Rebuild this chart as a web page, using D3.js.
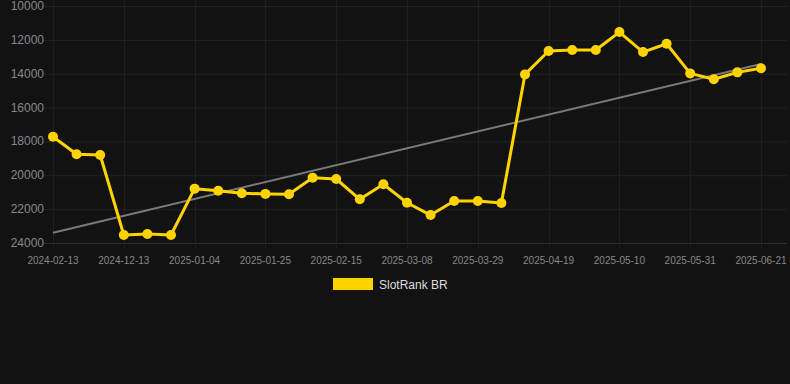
<!DOCTYPE html>
<html>
<head>
<meta charset="utf-8">
<script src="https://cdn.jsdelivr.net/npm/d3@7/dist/d3.min.js"></script>
<style>
  html, body { margin: 0; padding: 0; background: #121212; }
  svg { display: block; }
  text { font-family: "Liberation Sans", Arial, Helvetica, sans-serif; }
</style>
</head>
<body>
<svg id="chart" width="790" height="384"></svg>
<script>
// x categories (only every third one carries a label)
const labels = [
  '2024-02-13', '', '', '2024-12-13', '', '', '2025-01-04', '', '', '2025-01-25', '', '',
  '2025-02-15', '', '', '2025-03-08', '', '', '2025-03-29', '', '', '2025-04-19', '', '',
  '2025-05-10', '', '', '2025-05-31', '', '', '2025-06-21'
];

const rankValues = [
  17720, 18760, 18800, 23530, 23470, 23530, 20790, 20910, 21060, 21100, 21120, 20140,
  20220, 21420, 20530, 21620, 22350, 21520, 21520, 21640, 14040, 12660, 12600, 12600,
  11540, 12720, 12230, 13980, 14330, 13920, 13680
];

// trend line, first and last value
const trendValues = [23390, 13430];

const yTicks = [10000, 12000, 14000, 16000, 18000, 20000, 22000, 24000];
const seriesName = 'SlotRank BR';

const svg = d3.select('#chart');
const W = 790;

const x = d3.scaleLinear().domain([0, labels.length - 1]).range([53, 761]);
const y = d3.scaleLinear().domain([10000, 24000]).range([6, 243]);

// horizontal grid
svg.append('g')
  .selectAll('line')
  .data(yTicks)
  .join('line')
  .attr('x1', 43).attr('x2', 787)
  .attr('y1', d => y(d) + 0.5).attr('y2', d => y(d) + 0.5)
  .attr('stroke', d => d === 24000 ? '#2e2e2e' : '#222')
  .attr('stroke-width', 1);

// vertical grid at labelled ticks
const labelled = labels.map((l, i) => ({ l, i })).filter(d => d.l);
svg.append('g')
  .selectAll('line')
  .data(labelled)
  .join('line')
  .attr('x1', d => Math.round(x(d.i)) + 0.5).attr('x2', d => Math.round(x(d.i)) + 0.5)
  .attr('y1', 0).attr('y2', 249)
  .attr('stroke', '#1f1f1f')
  .attr('stroke-width', 1);

// y labels
svg.append('g')
  .selectAll('text')
  .data(yTicks)
  .join('text')
  .attr('x', 44)
  .attr('y', d => y(d) + 4)
  .attr('text-anchor', 'end')
  .attr('font-size', 12)
  .attr('fill', '#888')
  .text(d => d);

// x labels
svg.append('g')
  .selectAll('text')
  .data(labelled)
  .join('text')
  .attr('x', d => x(d.i))
  .attr('y', 264)
  .attr('text-anchor', 'middle')
  .attr('font-size', 10)
  .attr('fill', '#888')
  .text(d => d.l);

// trend line
svg.append('line')
  .attr('x1', x(0)).attr('y1', y(trendValues[0]))
  .attr('x2', x(labels.length - 1)).attr('y2', y(trendValues[1]))
  .attr('stroke', '#7a7a7a')
  .attr('stroke-width', 2);

// series line
const line = d3.line()
  .x((d, i) => x(i))
  .y(d => y(d));

svg.append('path')
  .datum(rankValues)
  .attr('d', line)
  .attr('fill', 'none')
  .attr('stroke', '#FFD300')
  .attr('stroke-width', 3)
  .attr('stroke-linejoin', 'round');

svg.append('g')
  .selectAll('circle')
  .data(rankValues)
  .join('circle')
  .attr('cx', (d, i) => x(i))
  .attr('cy', d => y(d))
  .attr('r', 5)
  .attr('fill', '#FFD300');

// legend
const legend = svg.append('g');
legend.append('rect')
  .attr('x', 333).attr('y', 278)
  .attr('width', 40).attr('height', 12)
  .attr('fill', '#FFD300');
legend.append('text')
  .attr('x', 379).attr('y', 289)
  .attr('font-size', 12)
  .attr('fill', '#ddd')
  .text(seriesName);
</script>
</body>
</html>
